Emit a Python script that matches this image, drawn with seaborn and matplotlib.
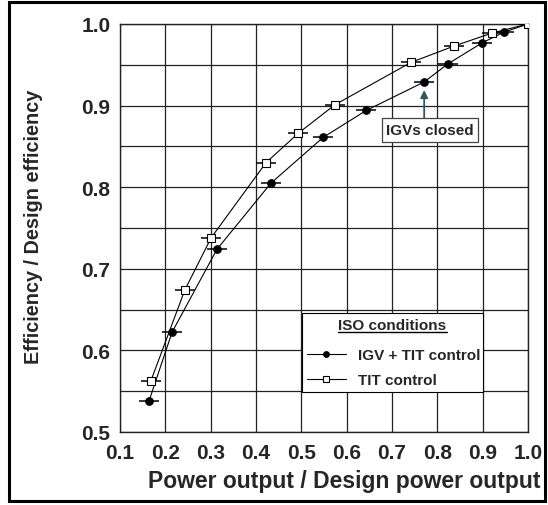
import matplotlib
matplotlib.use("Agg")
import matplotlib.pyplot as plt
import seaborn as sns
import pandas as pd
from matplotlib.patches import Rectangle

# Data
igv_power = [0.164, 0.215, 0.314, 0.433, 0.548, 0.643, 0.771, 0.823, 0.899, 0.947, 1.0]
igv_eff = [0.538, 0.6225, 0.724, 0.805, 0.861, 0.894, 0.929, 0.951, 0.977, 0.990, 1.0]
tit_power = [0.168, 0.243, 0.301, 0.422, 0.493, 0.574, 0.742, 0.837, 0.921, 1.0]
tit_eff = [0.5625, 0.674, 0.738, 0.830, 0.866, 0.901, 0.953, 0.973, 0.989, 1.0]
igv_xerr = [0.022] * len(igv_power)
tit_xerr = [0.022] * len(tit_power)

x_ticks = [0.1, 0.2, 0.3, 0.4, 0.5, 0.6, 0.7, 0.8, 0.9, 1.0]
y_ticks = [0.5, 0.6, 0.7, 0.8, 0.9, 1.0]
y_minor = [0.55, 0.65, 0.75, 0.85, 0.95]

sns.set_theme(style="white")
plt.rcParams['font.family'] = ['Liberation Sans', 'DejaVu Sans']
plt.rcParams['font.weight'] = 'bold'

fig = plt.figure(figsize=(5.48, 5.06), dpi=100)
ax = fig.add_axes([120/548, 1-433/506, 408/548, 408/506])

df_igv = pd.DataFrame({"power": igv_power, "eff": igv_eff})
df_tit = pd.DataFrame({"power": tit_power, "eff": tit_eff})

ax.errorbar(igv_power, igv_eff, xerr=igv_xerr, fmt='none', ecolor='black', elinewidth=1.1, capsize=0, zorder=3)
ax.errorbar(tit_power, tit_eff, xerr=tit_xerr, fmt='none', ecolor='black', elinewidth=1.1, capsize=0, zorder=3)

sns.lineplot(data=df_igv, x="power", y="eff", ax=ax, color='black', lw=0.8, marker='o',
             markersize=5.5, markerfacecolor='black', markeredgecolor='black', sort=False,
             label="IGV + TIT control", zorder=4)
sns.lineplot(data=df_tit, x="power", y="eff", ax=ax, color='black', lw=0.8, marker='s',
             markersize=6, markerfacecolor='white', markeredgecolor='black', markeredgewidth=0.8,
             sort=False, label="TIT control", zorder=4)

ax.set_xlim(0.1, 1.0)
ax.set_ylim(0.5, 1.0)
ax.set_xticks(x_ticks)
ax.set_xticklabels([f"{v:.1f}" for v in x_ticks])
ax.set_yticks(y_ticks)
ax.set_yticklabels([f"{v:.1f}" for v in y_ticks])
ax.set_yticks(y_minor, minor=True)
ax.tick_params(axis='both', which='both', length=0, labelsize=15)
ax.tick_params(axis='x', pad=8)
ax.tick_params(axis='y', pad=7)
for lab in ax.get_xticklabels() + ax.get_yticklabels():
    lab.set_fontweight('bold')
ax.grid(True, which='both', color='#222222', lw=0.9)
ax.set_axisbelow(True)
for s in ax.spines.values():
    s.set_color('#222222')
    s.set_linewidth(1.0)

ax.set_xlabel("Power output / Design power output", fontsize=16.5, fontweight='bold')
ax.xaxis.label.set_ha('right')
ax.xaxis.set_label_coords((541-120)/408, -0.091)
ax.set_ylabel("Efficiency / Design efficiency", fontsize=14.3, fontweight='bold')
ax.yaxis.set_label_coords((43-120)/408, 0.505)

leg = ax.legend(loc='lower left', bbox_to_anchor=(0.446, 0.098, 0.444, 0.201), mode='expand',
                title="ISO conditions", fontsize=11, title_fontsize=11, frameon=True,
                fancybox=False, edgecolor='black', framealpha=1, handlelength=2.6,
                borderaxespad=0, labelspacing=0.72, borderpad=0.3, markerscale=0.75,
                handletextpad=0.8)
leg.get_frame().set_linewidth(0.8)
leg.get_title().set_fontweight('bold')
for t in leg.get_texts():
    t.set_fontweight('bold')
leg._legend_box.sep = 12

ax.annotate('', xy=(0.771, 0.919), xytext=(0.771, 0.885),
            arrowprops=dict(arrowstyle='-|>', color='#2e5a5a', lw=1.3, mutation_scale=11,
                            shrinkA=0, shrinkB=0), zorder=5)
ax.text(0.784, 0.870, "IGVs closed", ha='center', va='center', fontsize=11, fontweight='bold',
        bbox=dict(boxstyle='square,pad=0.3', facecolor='white', edgecolor='#444444', lw=0.9), zorder=6)

# underline the legend title
fig.canvas.draw()
bb = leg.get_title().get_window_extent().transformed(fig.transFigure.inverted())
fig.add_artist(plt.Line2D([bb.x0, bb.x1], [bb.y0 - 0.001, bb.y0 - 0.001], color='black', lw=1.0,
                          transform=fig.transFigure))

# outer figure frame
fig.add_artist(Rectangle((9/548, 1-502/506), 536/548, 499/506, transform=fig.transFigure,
                         fill=False, edgecolor='black', lw=2.2))

fig.savefig("out.png", dpi=100)
